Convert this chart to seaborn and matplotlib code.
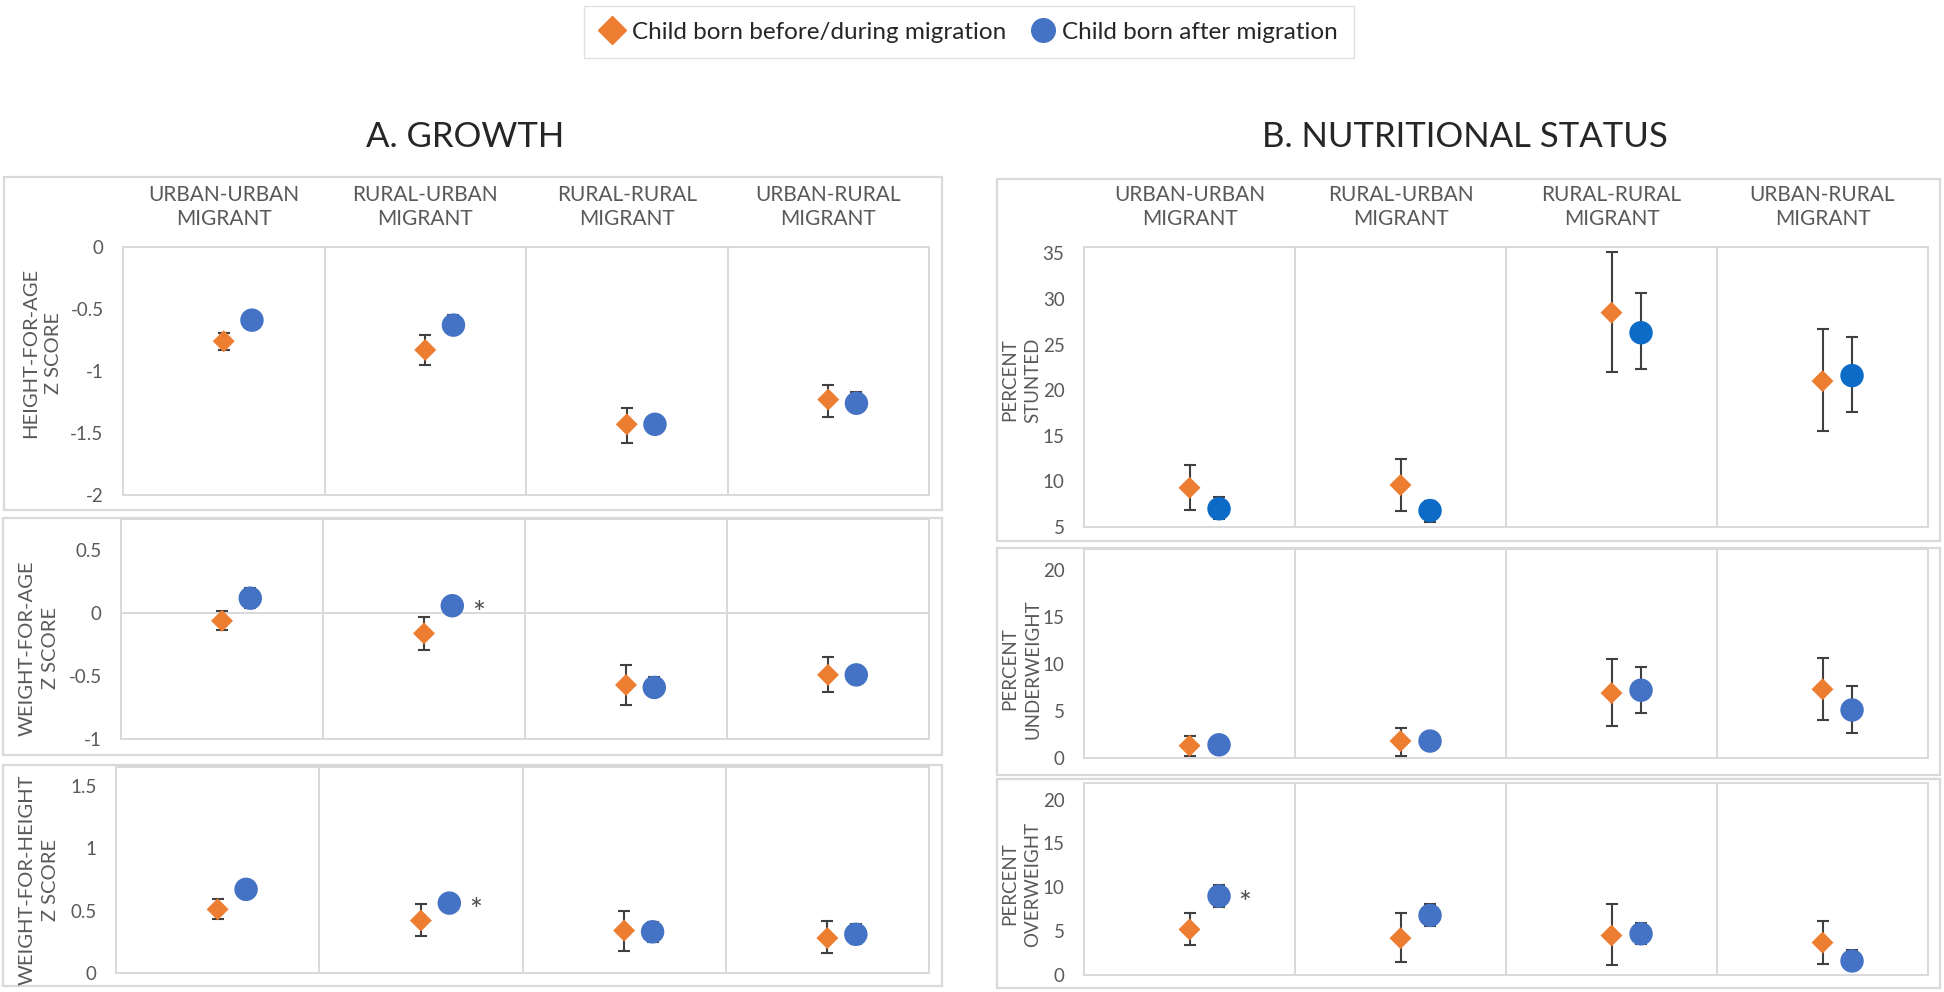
import numpy as np
import pandas as pd
import matplotlib
matplotlib.use('Agg')
import matplotlib.pyplot as plt
import seaborn as sns
from matplotlib.patches import Rectangle
from matplotlib.lines import Line2D

# categories (columns of every panel)
categories = ['URBAN-URBAN\nMIGRANT', 'RURAL-URBAN\nMIGRANT', 'RURAL-RURAL\nMIGRANT', 'URBAN-RURAL\nMIGRANT']
groups = ['Child born before/during migration', 'Child born after migration']

# A. growth: z scores (mean, lower, upper)
haz_before = [-0.76, -0.83, -1.43, -1.23]
haz_before_lo = [-0.83, -0.95, -1.58, -1.37]
haz_before_hi = [-0.69, -0.71, -1.30, -1.11]
haz_after = [-0.59, -0.63, -1.43, -1.26]
haz_after_lo = [-0.62, -0.70, -1.49, -1.33]
haz_after_hi = [-0.56, -0.55, -1.37, -1.17]

waz_before = [-0.06, -0.16, -0.57, -0.49]
waz_before_lo = [-0.13, -0.29, -0.73, -0.63]
waz_before_hi = [0.02, -0.03, -0.41, -0.35]
waz_after = [0.12, 0.06, -0.59, -0.49]
waz_after_lo = [0.04, 0.03, -0.66, -0.56]
waz_after_hi = [0.20, 0.09, -0.51, -0.42]

whz_before = [0.51, 0.42, 0.34, 0.28]
whz_before_lo = [0.43, 0.30, 0.18, 0.16]
whz_before_hi = [0.59, 0.55, 0.50, 0.42]
whz_after = [0.67, 0.56, 0.33, 0.31]
whz_after_lo = [0.63, 0.53, 0.25, 0.23]
whz_after_hi = [0.71, 0.59, 0.41, 0.39]

# B. nutritional status: percent (mean, lower, upper)
stunted_before = [9.3, 9.6, 28.5, 21.0]
stunted_before_lo = [6.9, 6.8, 22.0, 15.5]
stunted_before_hi = [11.8, 12.5, 35.2, 26.7]
stunted_after = [7.0, 6.8, 26.3, 21.6]
stunted_after_lo = [5.9, 5.6, 22.3, 17.6]
stunted_after_hi = [8.3, 7.9, 30.7, 25.8]

under_before = [1.3, 1.8, 6.9, 7.3]
under_before_lo = [0.2, 0.2, 3.4, 4.0]
under_before_hi = [2.3, 3.2, 10.5, 10.6]
under_after = [1.4, 1.8, 7.2, 5.1]
under_after_lo = [0.9, 1.2, 4.8, 2.7]
under_after_hi = [1.9, 2.4, 9.7, 7.6]

over_before = [5.2, 4.2, 4.5, 3.7]
over_before_lo = [3.4, 1.5, 1.1, 1.2]
over_before_hi = [7.1, 7.1, 8.1, 6.2]
over_after = [9.0, 6.8, 4.7, 1.6]
over_after_lo = [7.8, 5.6, 3.5, 0.6]
over_after_hi = [10.3, 8.1, 5.9, 2.8]

# significant differences (index of column with a star next to "after")
waz_stars = [1]
whz_stars = [1]
over_stars = [0]

ORANGE = '#ED7D31'
BLUE = '#4472C4'
BLUE_DARK = '#0B6BC6'
GRID = '#d9d9d9'
GRAY = '#595959'

sns.set_theme(style='white')
plt.rcParams['font.family'] = ['Lato', 'DejaVu Sans']
plt.rcParams['axes.unicode_minus'] = False

W, H = 1944, 992
fig = plt.figure(figsize=(W / 100, H / 100), dpi=100)


def fbox(l, t, r, b):
    return [l / W, 1 - b / H, (r - l) / W, (b - t) / H]


panels = [
    dict(vals=(haz_before, haz_before_lo, haz_before_hi, haz_after, haz_after_lo, haz_after_hi),
         ylim=(-2, 0), ticks=[-2, -1.5, -1, -0.5, 0], ylabel='HEIGHT-FOR-AGE\nZ SCORE',
         inner=(123, 247, 929, 495), outer=(4, 177, 942, 510), lab=(42, 353), header=True,
         stars=[], blue=BLUE, lsize=14.5, zero=False),
    dict(vals=(waz_before, waz_before_lo, waz_before_hi, waz_after, waz_after_lo, waz_after_hi),
         ylim=(-1, 0.75), ticks=[-1, -0.5, 0, 0.5], ylabel='WEIGHT-FOR-AGE\nZ SCORE',
         inner=(121, 519, 929, 739), outer=(3, 518, 942, 755), lab=(39, 648), header=False,
         stars=waz_stars, blue=BLUE, lsize=14.5, zero=True),
    dict(vals=(whz_before, whz_before_lo, whz_before_hi, whz_after, whz_after_lo, whz_after_hi),
         ylim=(0, 1.65), ticks=[0, 0.5, 1, 1.5], ylabel='WEIGHT-FOR-HEIGHT\nZ SCORE',
         inner=(116, 767, 929, 973), outer=(3, 765, 942, 986), lab=(39, 880), header=False,
         stars=whz_stars, blue=BLUE, lsize=14.5, zero=False),
    dict(vals=(stunted_before, stunted_before_lo, stunted_before_hi, stunted_after, stunted_after_lo, stunted_after_hi),
         ylim=(5, 35.7), ticks=[5, 10, 15, 20, 25, 30, 35], ylabel='PERCENT\nSTUNTED',
         inner=(1084, 247, 1928, 527), outer=(997, 179, 1940, 541), lab=(1021, 380), header=True,
         stars=[], blue=BLUE_DARK, lsize=13.5, zero=False),
    dict(vals=(under_before, under_before_lo, under_before_hi, under_after, under_after_lo, under_after_hi),
         ylim=(0, 22.2), ticks=[0, 5, 10, 15, 20], ylabel='PERCENT\nUNDERWEIGHT',
         inner=(1084, 549, 1928, 758), outer=(997, 548, 1940, 775), lab=(1021, 669), header=False,
         stars=[], blue=BLUE, lsize=13.5, zero=False),
    dict(vals=(over_before, over_before_lo, over_before_hi, over_after, over_after_lo, over_after_hi),
         ylim=(0, 21.9), ticks=[0, 5, 10, 15, 20], ylabel='PERCENT\nOVERWEIGHT',
         inner=(1084, 783, 1928, 975), outer=(997, 779, 1940, 988), lab=(1021, 884), header=False,
         stars=over_stars, blue=BLUE, lsize=13.5, zero=False),
]

offset = 0.14  # horizontal shift of the "after" series inside a column

for p in panels:
    b, b_lo, b_hi, a, a_lo, a_hi = [np.array(v) for v in p['vals']]
    x = np.arange(len(categories))
    df = pd.DataFrame({
        'x': np.concatenate([x, x + offset]),
        'value': np.concatenate([b, a]),
        'lo': np.concatenate([b_lo, a_lo]),
        'hi': np.concatenate([b_hi, a_hi]),
        'group': [groups[0]] * len(x) + [groups[1]] * len(x),
    })

    fig.add_artist(Rectangle((p['outer'][0] / W, 1 - p['outer'][3] / H),
                             (p['outer'][2] - p['outer'][0]) / W,
                             (p['outer'][3] - p['outer'][1]) / H,
                             transform=fig.transFigure, fill=False, edgecolor=GRID, lw=1.6))

    ax = fig.add_axes(fbox(*p['inner']))
    ax.errorbar(df['x'], df['value'], yerr=[df['value'] - df['lo'], df['hi'] - df['value']],
                fmt='none', ecolor='#404040', elinewidth=1.5, capsize=4, capthick=1.5, zorder=2)
    sns.scatterplot(data=df, x='x', y='value', hue='group', style='group', size='group',
                    palette={groups[0]: ORANGE, groups[1]: p['blue']},
                    markers={groups[0]: 'D', groups[1]: 'o'},
                    sizes={groups[0]: 125, groups[1]: 285},
                    linewidth=0, legend=False, ax=ax, zorder=3)

    for i in p['stars']:
        ax.annotate('*', xy=(df['x'][len(x) + i], df['value'][len(x) + i]),
                    xytext=(14, -6), textcoords='offset points', ha='left', va='center',
                    fontsize=22, color='#4d4d4d')

    for xv in [0.5, 1.5, 2.5]:
        ax.axvline(xv, color=GRID, lw=1.4, zorder=1)
    if p['zero']:
        ax.axhline(0, color=GRID, lw=1.4, zorder=1)

    ax.set_xlim(-0.5, len(categories) - 0.5)
    ax.set_ylim(*p['ylim'])
    ax.set_xticks([])
    ax.set_yticks(p['ticks'])
    ax.set_yticklabels([f'{t:g}' for t in p['ticks']])
    ax.tick_params(axis='y', length=0, pad=14, labelsize=13.5, labelcolor=GRAY)
    ax.set_xlabel('')
    ax.set_ylabel('')
    for s in ax.spines.values():
        s.set_color(GRID)
        s.set_linewidth(1.4)

    if p['header']:
        for i, c in enumerate(categories):
            ax.annotate(c, xy=(i, 1), xycoords=('data', 'axes fraction'),
                        xytext=(0, 29), textcoords='offset points', ha='center', va='center',
                        fontsize=15, color=GRAY, linespacing=1.25)

    fig.text(p['lab'][0] / W, 1 - p['lab'][1] / H, p['ylabel'], rotation=90,
             ha='center', va='center', fontsize=p['lsize'], color=GRAY, linespacing=1.45)

# section titles
fig.text(465 / W, 1 - 137 / H, 'A. GROWTH', ha='center', va='center', fontsize=25, color='#262626')
fig.text(1465 / W, 1 - 137 / H, 'B. NUTRITIONAL STATUS', ha='center', va='center', fontsize=25, color='#262626')

handles = [Line2D([], [], marker='D', color=ORANGE, ls='none', markersize=14),
           Line2D([], [], marker='o', color=BLUE, ls='none', markersize=17)]
fig.legend(handles, groups, ncol=2, loc='center', bbox_to_anchor=(969 / W, 1 - 32 / H),
           frameon=True, fancybox=False, edgecolor=GRID, fontsize=17.5,
           handlelength=1.0, handletextpad=0.3, columnspacing=1.0, borderpad=0.65)

fig.savefig('out.png', dpi=100)
